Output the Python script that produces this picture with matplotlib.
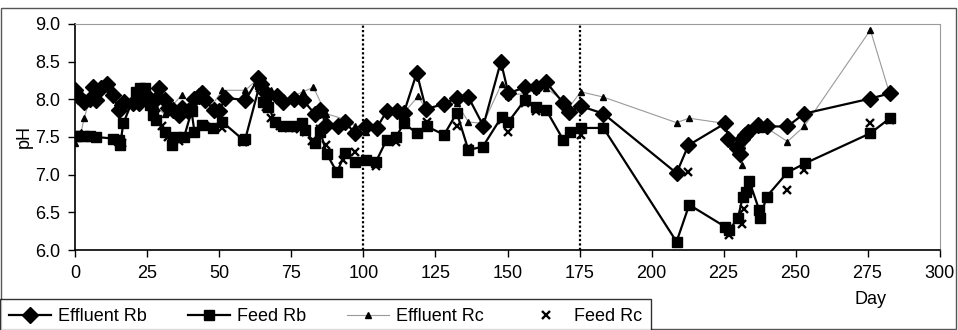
"""
pH of effluent and feed for reactors Rb and Rc over the run.
Saves out.png
"""

import matplotlib
matplotlib.use("Agg")
import matplotlib.pyplot as plt
from matplotlib.lines import Line2D
from matplotlib.patches import Rectangle

plt.rcParams["font.family"] = ["Liberation Sans", "DejaVu Sans"]

# ---------------------------------------------------------------------------
# Data
# ---------------------------------------------------------------------------
erb_day = [0, 1, 3, 5, 6, 7, 9, 11, 13, 15,
           16, 17, 20, 22, 23, 25, 28, 29, 31, 32,
           34, 36, 37, 39, 41, 43, 44, 45, 48, 50,
           52, 59, 63.5, 64.5, 66, 70, 72, 76, 79, 83,
           85, 87, 91, 93.6, 97, 101, 104.6, 108, 111.5, 114,
           118.5, 121.7, 128, 132.4, 136.4, 141.6, 147.7, 150.3, 156, 160,
           163.4, 169.4, 171.5, 175.4, 183.3, 208.7, 212.8, 225.5, 226.7, 229.6,
           230.7, 231.3, 232.5, 233.5, 237, 240, 247.2, 253, 276, 282.8]
erb_ph = [8.12, 8.05, 7.97, 8.00, 8.17, 7.99, 8.15, 8.21, 8.06, 7.86,
          7.92, 7.97, 7.95, 7.95, 8.10, 8.05, 8.00, 8.15, 7.99, 7.88,
          7.86, 7.79, 7.88, 7.85, 8.01, 8.05, 8.08, 7.99, 7.86, 7.85,
          8.02, 7.99, 8.28, 8.21, 8.08, 8.04, 7.97, 8.01, 7.99, 7.81,
          7.86, 7.66, 7.64, 7.70, 7.55, 7.65, 7.62, 7.84, 7.84, 7.82,
          8.35, 7.87, 7.94, 8.02, 8.03, 7.65, 8.50, 8.08, 8.16, 8.16,
          8.23, 7.95, 7.83, 7.91, 7.81, 7.02, 7.39, 7.68, 7.48, 7.35,
          7.28, 7.48, 7.53, 7.57, 7.66, 7.64, 7.64, 7.81, 8.01, 8.08]

frb_day = [0, 1, 3, 5, 7, 13, 15, 15.5, 16.6, 21,
           22.4, 24.1, 26, 27, 28, 31, 33.4, 35, 37.7, 40.3,
           41.3, 44, 47.9, 51, 58.3, 59, 64, 65.2, 66, 67,
           69.3, 72, 75.6, 78.8, 79.7, 83, 85, 87.2, 90.8, 93.6,
           97, 101, 104.3, 108, 111.3, 114, 118.6, 122, 128, 132.4,
           136.4, 141.4, 148, 150.3, 156, 160, 163.4, 169.4, 171.7, 175.4,
           183.3, 208.7, 213.1, 225.5, 227, 230, 231.7, 232.8, 234, 237.4,
           237.7, 240, 247.2, 253.3, 276, 282.8]
frb_ph = [7.51, 7.51, 7.51, 7.51, 7.50, 7.48, 7.46, 7.39, 7.68, 8.10,
          8.15, 8.15, 7.92, 7.79, 7.73, 7.57, 7.39, 7.50, 7.50, 7.84,
          7.57, 7.66, 7.62, 7.70, 7.46, 7.48, 8.20, 7.97, 8.05, 7.90,
          7.70, 7.64, 7.65, 7.68, 7.59, 7.42, 7.57, 7.28, 7.03, 7.29,
          7.17, 7.19, 7.17, 7.46, 7.50, 7.68, 7.55, 7.64, 7.53, 7.82,
          7.33, 7.37, 7.77, 7.70, 7.99, 7.90, 7.86, 7.46, 7.57, 7.62,
          7.62, 6.11, 6.60, 6.31, 6.27, 6.42, 6.71, 6.77, 6.91, 6.53,
          6.42, 6.71, 7.03, 7.15, 7.55, 7.75]

erc_day = [0, 2, 3, 5, 9, 13, 16.6, 22, 24, 28,
           31, 36.9, 40, 43.8, 47, 51, 59, 63.5, 67.8, 72,
           76, 79, 82.6, 87, 93, 97, 101, 104.6, 108, 111.5,
           114, 119, 121.7, 128, 132.4, 136.4, 141.6, 148, 150.3, 156,
           160, 163.4, 169.4, 171.5, 175.4, 183.3, 208.7, 213, 225.5, 228,
           231.3, 233.5, 237.7, 238, 240, 247.2, 253, 276, 282.8]
erc_ph = [7.42, 7.57, 7.75, 8.00, 8.12, 8.05, 7.99, 8.05, 8.10, 7.90,
          7.80, 8.06, 7.95, 8.08, 7.90, 8.12, 8.12, 8.28, 8.12, 7.95,
          8.05, 8.10, 8.16, 7.81, 7.74, 7.65, 7.57, 7.62, 7.84, 7.84,
          7.82, 8.04, 7.87, 7.94, 7.95, 7.70, 7.68, 8.21, 8.05, 8.08,
          8.12, 8.15, 7.98, 7.90, 8.10, 8.03, 7.69, 7.75, 7.68, 7.42,
          7.13, 7.55, 7.70, 7.61, 7.62, 7.44, 7.64, 8.92, 8.06]

frc_day = [0, 2, 5, 15, 16, 22, 24, 28, 30, 32,
           34, 36, 38, 41, 45, 48, 51, 58, 64, 66,
           68, 71, 74, 78, 80, 82, 85, 87, 91, 93,
           97, 101, 104.3, 108, 111.3, 114, 118.6, 122, 128, 132.4,
           136.4, 141.4, 148, 150.3, 156, 160, 163.4, 171.7, 175.4, 212.8,
           227, 231.3, 232, 234, 237.7, 247.2, 253, 276, 282.8]
frc_ph = [7.50, 7.50, 7.50, 7.48, 7.42, 8.05, 8.10, 7.80, 7.65, 7.50,
          7.38, 7.45, 7.50, 7.55, 7.65, 7.62, 7.62, 7.44, 8.15, 7.90,
          7.75, 7.65, 7.62, 7.60, 7.57, 7.45, 7.60, 7.40, 7.05, 7.20,
          7.30, 7.19, 7.12, 7.45, 7.43, 7.68, 7.55, 7.70, 7.52, 7.65,
          7.35, 7.37, 7.72, 7.57, 7.95, 7.85, 7.84, 7.56, 7.53, 7.04,
          6.20, 6.35, 6.55, 6.80, 6.47, 6.80, 7.06, 7.69, 7.72]

phase_days = [100, 175]
x_ticks = list(range(0, 301, 25))
y_ticks = [6.0, 6.5, 7.0, 7.5, 8.0, 8.5, 9.0]

FS = 13

fig = plt.figure(figsize=(9.58, 3.30), dpi=100)
ax = fig.add_axes([0.0788, 0.2424, 0.9019, 0.6849])

# phase boundaries
for d in phase_days:
    ax.axvline(d, color="black", linestyle=(0, (1, 1)), linewidth=1.6, zorder=1)

ax.plot(erc_day, erc_ph, color="#9a9a9a", linewidth=0.8, marker="^",
        markersize=4.5, markerfacecolor="black", markeredgecolor="black", zorder=2)
ax.plot(frb_day, frb_ph, color="black", linewidth=1.6, marker="s",
        markersize=6.5, zorder=3)
ax.plot(erb_day, erb_ph, color="black", linewidth=1.6, marker="D",
        markersize=8.5, zorder=4)
ax.plot(frc_day, frc_ph, linestyle="none", marker="x", color="black",
        markersize=5.5, markeredgewidth=1.7, zorder=5)

ax.set_xlim(0, 300)
ax.set_ylim(6.0, 9.0)
ax.set_xticks(x_ticks)
ax.set_yticks(y_ticks)
ax.set_yticklabels([f"{v:.1f}" for v in y_ticks])
ax.tick_params(direction="out", length=5, width=1, labelsize=FS, pad=6)
ax.set_ylabel("pH", fontsize=FS, labelpad=2)

for side in ("top", "right"):
    ax.spines[side].set_color("#9a9a9a")
    ax.spines[side].set_linestyle((0, (1, 1)))
for side in ("left", "bottom"):
    ax.spines[side].set_linewidth(1.2)

fig.text(870 / 958, 1 - 300 / 330, "Day", fontsize=FS, ha="center", va="center")

# outer frame
fig.patches.append(Rectangle((0.001, 0.002), 0.997, 0.973, transform=fig.transFigure,
                             fill=False, edgecolor="#555555", linewidth=1))

handles = [
    Line2D([], [], color="black", linewidth=1.6, marker="D", markersize=8.5),
    Line2D([], [], color="black", linewidth=1.6, marker="s", markersize=6.5),
    Line2D([], [], color="#9a9a9a", linewidth=0.8, marker="^", markersize=4.5,
           markerfacecolor="black", markeredgecolor="black"),
    Line2D([], [], linestyle="none", marker="x", color="black", markersize=5.5,
           markeredgewidth=1.7),
]
labels = ["Effluent Rb", "Feed Rb", "Effluent Rc", "Feed Rc"]
leg = fig.legend(handles, labels, loc="lower left", bbox_to_anchor=(0.0, -0.012),
                 ncol=4, fontsize=FS, frameon=True, fancybox=False,
                 edgecolor="black", handlelength=2.3, handletextpad=0.4,
                 columnspacing=2.3, borderpad=0.5, borderaxespad=0)
leg.get_frame().set_linewidth(1)

fig.savefig("out.png", dpi=100)
